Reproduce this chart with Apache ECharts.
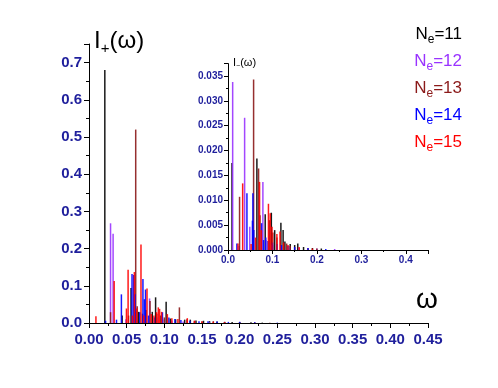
<!DOCTYPE html>
<html>
<head>
<meta charset="utf-8">
<script src="https://cdn.jsdelivr.net/npm/echarts@6/dist/echarts.min.js"></script>
<style>
  html, body { margin: 0; padding: 0; background: #fff; }
  #chart { width: 498px; height: 388px; }
</style>
</head>
<body>
<div id="chart"></div>
<script>
// main panel spikes, [omega, I+(omega)]
const mainNe11 = [[0.021,0.68],[0.044,0.02],[0.0558,0.094],[0.066,0.03],[0.0755,0.035],[0.084,0.03],[0.0884,0.069],[0.0955,0.02],[0.1024,0.057],[0.108,0.012],[0.115,0.01],[0.127,0.009],[0.1345,0.009],[0.142,0.007],[0.152,0.006],[0.16,0.005],[0.17,0.004],[0.18,0.003],[0.19,0.003],[0.2,0.002],[0.215,0.002],[0.23,0.001]];
const mainNe12 = [[0.0286,0.268],[0.032,0.24],[0.049,0.01],[0.0614,0.03],[0.0804,0.066],[0.09,0.015],[0.1,0.01],[0.11,0.006],[0.125,0.004],[0.14,0.003],[0.16,0.002],[0.18,0.002],[0.2,0.001]];
const mainNe13 = [[0.0286,0.029],[0.0525,0.02],[0.062,0.52],[0.064,0.045],[0.071,0.025],[0.081,0.059],[0.09,0.025],[0.1,0.015],[0.12,0.042],[0.13,0.01],[0.14,0.006],[0.15,0.005],[0.165,0.005],[0.18,0.003],[0.2,0.003],[0.22,0.002],[0.24,0.001]];
const mainNe14 = [[0.022,0.006],[0.0365,0.009],[0.043,0.077],[0.0571,0.132],[0.0593,0.129],[0.061,0.077],[0.0675,0.029],[0.0716,0.118],[0.0735,0.064],[0.075,0.09],[0.079,0.02],[0.087,0.015],[0.0975,0.029],[0.106,0.015],[0.114,0.011],[0.122,0.008],[0.134,0.006],[0.146,0.005],[0.158,0.005],[0.17,0.004],[0.185,0.003],[0.2,0.003],[0.22,0.002],[0.25,0.001]];
const mainNe15 = [[0.0092,0.018],[0.0334,0.113],[0.0497,0.039],[0.0519,0.143],[0.0575,0.02],[0.0602,0.137],[0.0633,0.039],[0.069,0.211],[0.0728,0.02],[0.077,0.093],[0.0826,0.024],[0.0862,0.02],[0.0897,0.029],[0.092,0.042],[0.0937,0.038],[0.0963,0.03],[0.104,0.024],[0.11,0.013],[0.118,0.011],[0.1305,0.013],[0.14,0.006],[0.15,0.004],[0.165,0.003],[0.18,0.002]];

// inset spikes, [omega, I-(omega)]
const insetNe11 = [[0.009,0.0175],[0.065,0.0184],[0.0837,0.0072],[0.0975,0.0075],[0.105,0.004],[0.119,0.0055],[0.124,0.004],[0.128,0.0017],[0.14,0.0012],[0.15,0.001],[0.157,0.0013],[0.17,0.0006],[0.19,0.0004],[0.21,0.0003]];
const insetNe12 = [[0.0105,0.0338],[0.025,0.0008],[0.0374,0.0266],[0.049,0.0047],[0.0785,0.0137],[0.085,0.002],[0.1,0.001],[0.12,0.0008],[0.14,0.0005],[0.16,0.0004],[0.2,0.0003],[0.24,0.0002]];
const insetNe13 = [[0.026,0.0107],[0.0576,0.0343],[0.0688,0.0164],[0.072,0.007],[0.093,0.006],[0.101,0.0035],[0.11,0.0025],[0.132,0.0013],[0.14,0.0008],[0.18,0.0004],[0.2,0.0003]];
const insetNe14 = [[0.02,0.0013],[0.0426,0.0114],[0.055,0.0059],[0.056,0.0114],[0.058,0.004],[0.0755,0.0054],[0.08,0.002],[0.085,0.0025],[0.09,0.0018],[0.1,0.0015],[0.11,0.0012],[0.12,0.001],[0.135,0.0008],[0.15,0.0006],[0.18,0.0004],[0.22,0.0002]];
const insetNe15 = [[0.0225,0.0013],[0.033,0.0134],[0.052,0.0012],[0.062,0.0025],[0.071,0.0137],[0.075,0.004],[0.091,0.0093],[0.095,0.0074],[0.099,0.0047],[0.11,0.0032],[0.117,0.0037],[0.125,0.0015],[0.135,0.001],[0.16,0.0006],[0.19,0.0003]];

const sizes = ['11', '12', '13', '14', '15'];
const colors = ['#000000', '#9933ff', '#8b1a1a', '#0000ff', '#ff0000'];
const mainSets = [mainNe11, mainNe12, mainNe13, mainNe14, mainNe15];
const insetSets = [insetNe11, insetNe12, insetNe13, insetNe14, insetNe15];

const labelBlue = '#1f1f9c';
const font = 'Liberation Sans, Arial, sans-serif';

const chart = echarts.init(document.getElementById('chart'));

function valueAxis(grid, min, max, interval, digits, fontSize, margin, tickLen) {
  return {
    type: 'value',
    gridIndex: grid,
    min, max, interval,
    axisLine: { show: true, onZero: false, lineStyle: { color: '#000', width: 1 } },
    axisTick: { show: true, inside: false, length: tickLen, lineStyle: { color: '#000' } },
    minorTick: { show: true, splitNumber: 2, length: tickLen - 2, lineStyle: { color: '#000' } },
    splitLine: { show: false },
    minorSplitLine: { show: false },
    axisLabel: {
      color: labelBlue, fontWeight: 'bold', fontSize, fontFamily: font, margin,
      showMaxLabel: false,
      formatter: v => v.toFixed(digits)
    }
  };
}

function spikes(data, i, grid) {
  return {
    type: 'bar',
    name: 'Ne=' + sizes[i],
    xAxisIndex: grid,
    yAxisIndex: grid,
    data,
    barWidth: 1.5,
    barGap: '-100%',
    itemStyle: { color: colors[i], opacity: 0.9 },
    silent: true
  };
}

const series = [];
mainSets.forEach((d, i) => series.push(spikes(d, i, 0)));
insetSets.forEach((d, i) => series.push(spikes(d, i, 1)));

const mainX = valueAxis(0, 0, 0.45, 0.05, 2, 15, 9, 5);
mainX.axisLabel.showMaxLabel = true;

const legendText = sizes.map((n, i) => ({
  type: 'text',
  x: 462,
  y: 34 + i * 27,
  style: {
    text: '{n|N}{s|e}{n|=' + n + '}',
    fill: colors[i],
    align: 'right',
    verticalAlign: 'middle',
    rich: {
      n: { fontSize: 17, fontFamily: font, lineHeight: 24, fill: colors[i] },
      s: { fontSize: 12, fontFamily: font, lineHeight: 24, verticalAlign: 'bottom', fill: colors[i] }
    }
  }
}));

chart.setOption({
  backgroundColor: '#fff',
  animation: false,
  grid: [
    { left: 89, right: 70, top: 44, bottom: 65 },
    { left: 228, right: 70, top: 63.6, bottom: 138 }
  ],
  xAxis: [mainX, valueAxis(1, 0, 0.45, 0.1, 1, 10, 5, 4)],
  yAxis: [
    valueAxis(0, 0, 0.75, 0.1, 1, 15, 7, 5),
    valueAxis(1, 0, 0.0375, 0.005, 3, 10, 5, 4)
  ],
  series,
  graphic: [
    {
      type: 'text', x: 94, y: 41,
      style: {
        text: '{a|I}{b|+}{a|(ω)}',
        verticalAlign: 'middle',
        rich: {
          a: { fontSize: 24, fontFamily: font, lineHeight: 30, fill: '#000' },
          b: { fontSize: 15, fontFamily: font, lineHeight: 30, verticalAlign: 'bottom', fill: '#000' }
        }
      }
    },
    {
      type: 'text', x: 233, y: 63,
      style: {
        text: '{a|I}{b|−}{a|(ω)}',
        verticalAlign: 'middle',
        rich: {
          a: { fontSize: 11, fontFamily: font, lineHeight: 14, fill: '#000' },
          b: { fontSize: 7, fontFamily: font, lineHeight: 14, verticalAlign: 'bottom', fill: '#000' }
        }
      }
    },
    {
      type: 'text', x: 427, y: 314,
      style: { text: 'ω', font: '28px ' + font, fill: '#000', align: 'center', verticalAlign: 'bottom' }
    }
  ].concat(legendText)
});
</script>
</body>
</html>
